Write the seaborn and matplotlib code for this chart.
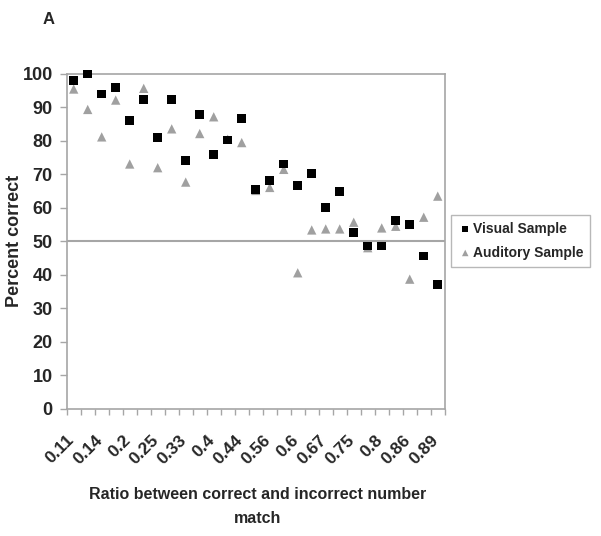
import matplotlib
matplotlib.use("Agg")
import matplotlib.pyplot as plt
import seaborn as sns
import pandas as pd
import numpy as np

# ratio categories (n/m), labels shown on every second one
ratios = ["0.11", "0.13", "0.14", "0.17", "0.2", "0.22", "0.25", "0.29", "0.33",
          "0.38", "0.4", "0.43", "0.44", "0.5", "0.56", "0.57", "0.6", "0.63",
          "0.67", "0.71", "0.75", "0.78", "0.8", "0.83", "0.86", "0.88", "0.89"]

visual = [98, 100, 94, 96, 86, 92.4, 81, 92.3, 74.2, 88, 76, 80.3, 86.8, 65.5,
          68.2, 73.1, 66.7, 70.2, 60, 65, 52.7, 48.6, 48.6, 56.2, 55, 45.6, 37]
auditory = [95.5, 89.4, 81.2, 92.2, 73.1, 95.7, 72, 83.6, 67.7, 82.2, 87.2, 80.5,
            79.5, 65.2, 66.1, 71.5, 40.6, 53.4, 53.7, 53.7, 55.7, 48.1, 54, 54.5,
            38.7, 57.2, 63.5]

chance = 50

sns.set_style("white")
plt.rcParams['font.family'] = ['Liberation Sans', 'DejaVu Sans']
plt.rcParams['font.weight'] = 'bold'

df = pd.DataFrame({"ratio": ratios, "visual": visual, "auditory": auditory})

fig = plt.figure(figsize=(6.01, 5.36), dpi=100)
ax = fig.add_axes([0.111, 0.2375, 0.629, 0.6245])

grey = "#a6a6a6"
ax.axhline(chance, color=grey, lw=1.5, zorder=1)

sns.scatterplot(data=df, x="ratio", y="auditory", marker="^", color="#a0a0a0",
                s=45, edgecolor="none", ax=ax, label="Auditory Sample", zorder=2,
                clip_on=False)
sns.scatterplot(data=df, x="ratio", y="visual", marker="s", color="black",
                s=40, edgecolor="none", ax=ax, label="Visual Sample", zorder=3,
                clip_on=False)

ax.set_xlim(-0.5, len(ratios) - 0.5)
ax.set_ylim(0, 100)
ax.set_yticks(np.arange(0, 101, 10))
ax.tick_params(axis="y", labelsize=13, length=5, color=grey, width=1, pad=5, left=True)

# tick marks between categories, labels on every second category (Excel style)
bounds = np.arange(len(ratios) + 1) - 0.5
tick_labels = [ratios[i] if (i < len(ratios) and i % 2 == 0) else "" for i in range(len(bounds))]
ax.set_xticks(bounds)
ax.set_xticklabels(tick_labels, rotation=45, ha="right", va="top",
                   rotation_mode="anchor", fontsize=12.5)
ax.tick_params(axis="x", length=4, color=grey, width=1, bottom=True, pad=13)

for sp in ax.spines.values():
    sp.set_color(grey)
    sp.set_linewidth(1.2)

ax.set_ylabel("Percent correct", fontsize=13, fontweight="bold")
ax.yaxis.set_label_coords(-0.116, 0.5)
ax.set_xlabel("Ratio between correct and incorrect number\nmatch", fontsize=11.5,
              fontweight="bold", linespacing=1.75)
ax.xaxis.set_label_coords(0.505, -0.235)

handles, labels = ax.get_legend_handles_labels()
leg = ax.legend(handles[::-1], labels[::-1], loc="upper left",
                bbox_to_anchor=(0.751, 0.599), bbox_transform=fig.transFigure,
                borderaxespad=0, frameon=True, fancybox=False, edgecolor=grey,
                fontsize=10, handletextpad=0.05, handlelength=1.0, borderpad=0.5,
                labelspacing=0.7, markerscale=0.7)
leg.get_frame().set_linewidth(1.0)

fig.text(0.0715, 0.963, "A", fontsize=12, fontweight="bold", ha="left", va="center")

fig.savefig("out.png", dpi=100)
